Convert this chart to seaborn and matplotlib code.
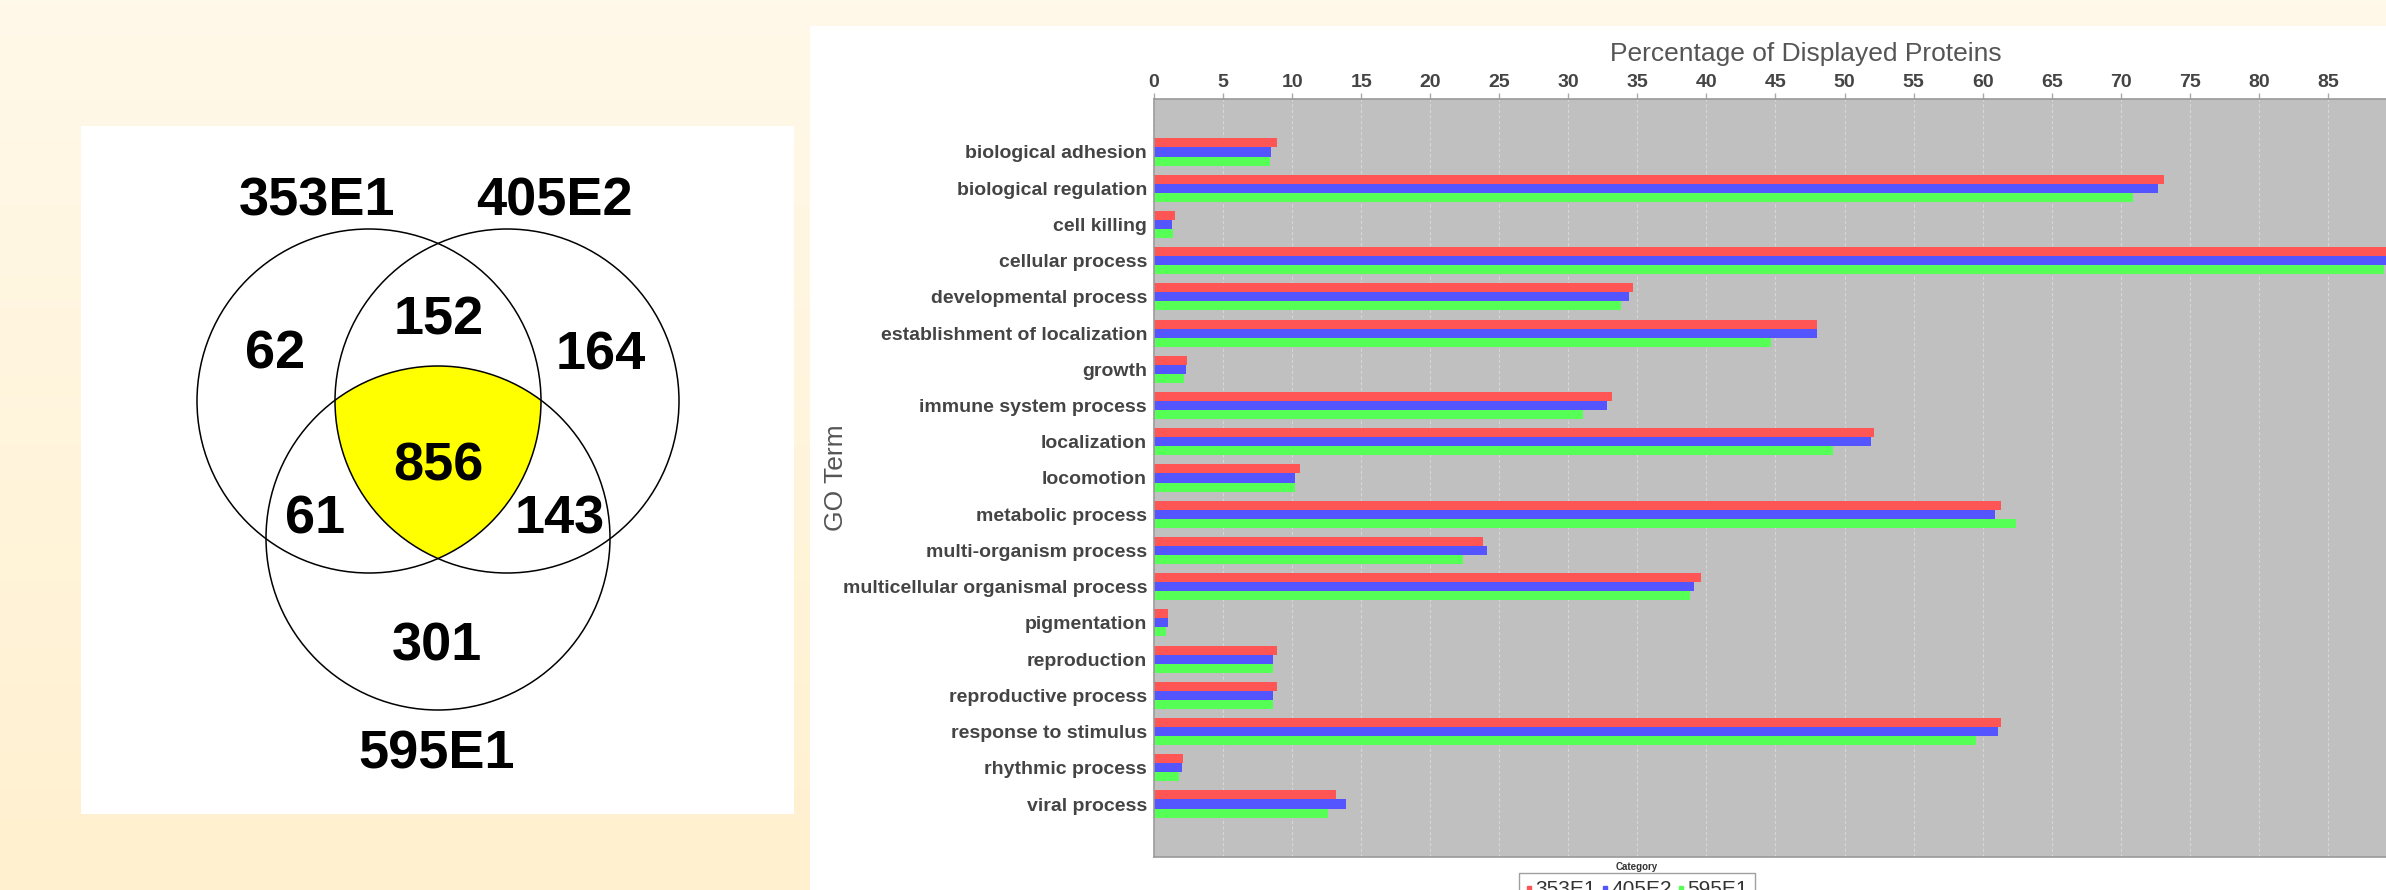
import numpy as np
import pandas as pd
import matplotlib
matplotlib.use("Agg")
import matplotlib.pyplot as plt
from matplotlib import font_manager
from matplotlib.patches import Circle, Rectangle, Polygon
from matplotlib.lines import Line2D
import seaborn as sns

# ---------------- data ----------------
terms = [
    "biological adhesion", "biological regulation", "cell killing",
    "cellular process", "developmental process",
    "establishment of localization", "growth", "immune system process",
    "localization", "locomotion", "metabolic process",
    "multi-organism process", "multicellular organismal process",
    "pigmentation", "reproduction", "reproductive process",
    "response to stimulus", "rhythmic process", "viral process",
]
pct_353E1 = [8.9, 73.1, 1.5, 91.5, 34.7, 48.0, 2.4, 33.2, 52.1, 10.6,
             61.3, 23.8, 39.6, 1.0, 8.9, 8.9, 61.3, 2.1, 13.2]
pct_405E2 = [8.5, 72.7, 1.3, 91.0, 34.4, 48.0, 2.3, 32.8, 51.9, 10.2,
             60.9, 24.1, 39.1, 1.0, 8.6, 8.6, 61.1, 2.0, 13.9]
pct_595E1 = [8.4, 70.9, 1.4, 89.1, 33.8, 44.7, 2.2, 31.1, 49.2, 10.2,
             62.4, 22.4, 38.8, 0.9, 8.6, 8.6, 59.5, 1.8, 12.6]
groups = ["353E1", "405E2", "595E1"]
group_colors = ["#FF5555", "#5555FF", "#55FF55"]
x_ticks = list(range(0, 95, 5))

# Venn region counts, keyed by set membership (353E1, 405E2, 595E1)
venn_regions = ["100", "010", "110", "001", "101", "011", "111"]
venn_counts = [62, 164, 152, 301, 61, 143, 856]

# ---------------- fonts ----------------
W, H = 2386, 890
sns.set_theme(style="white")
plt.rcParams["font.family"] = ["Liberation Sans", "DejaVu Sans"]
tick_fp = font_manager.FontProperties(family="Liberation Sans", weight="bold", size=14)

fig = plt.figure(figsize=(W / 100, H / 100), dpi=100)

# background layer in pixel units (y downwards)
bg = fig.add_axes([0, 0, 1, 1], zorder=0)
bg.set_xlim(0, W)
bg.set_ylim(H, 0)
bg.axis("off")
t = np.linspace(0, 1, 256)[:, None, None]
c_top = np.array([255, 249, 233]) / 255
c_bot = np.array([255, 240, 207]) / 255
bg.imshow(c_top + (c_bot - c_top) * t, extent=(0, W, H, 0), aspect="auto", zorder=0)
bg.add_patch(Rectangle((81, 126), 713, 688, fc="white", ec="none", zorder=1))
bg.add_patch(Rectangle((810, 26), 1700, 900, fc="white", ec="none", zorder=1))

# ---------------- Venn diagram ----------------
r = 172
centers = {"353E1": (369, 401), "405E2": (507, 401), "595E1": (438, 538)}
name_pos = {"353E1": (317, 196), "405E2": (554, 196), "595E1": (437, 749)}
region_pos = {"100": (275, 349), "010": (601, 350), "110": (439, 315),
              "001": (437, 641), "101": (315, 514), "011": (560, 514),
              "111": (438, 461)}

# central triple overlap
ang = np.linspace(0, 2 * np.pi, 4000)
pts = []
cl = list(centers.values())
for i, (cx, cy) in enumerate(cl):
    ring = np.c_[cx + r * np.cos(ang), cy + r * np.sin(ang)]
    ok = np.ones(len(ring), bool)
    for j, (ox, oy) in enumerate(cl):
        if j != i:
            ok &= np.hypot(ring[:, 0] - ox, ring[:, 1] - oy) <= r + 1e-6
    pts.append(ring[ok])
pts = np.vstack(pts)
m = pts.mean(axis=0)
pts = pts[np.argsort(np.arctan2(pts[:, 1] - m[1], pts[:, 0] - m[0]))]
bg.add_patch(Polygon(pts, closed=True, fc="#FFFF00", ec="none", zorder=2))

for name, (cx, cy) in centers.items():
    bg.add_patch(Circle((cx, cy), r, fill=False, ec="black", lw=1.1, zorder=3))

cap = 39 * 100 / 72 * 0.716
for name, (x, y) in name_pos.items():
    bg.text(x, y + cap / 2, name, ha="center", va="baseline", fontsize=39,
            fontweight="bold", color="black", zorder=4)
for reg, cnt in zip(venn_regions, venn_counts):
    x, y = region_pos[reg]
    bg.text(x, y + cap / 2, str(cnt), ha="center", va="baseline", fontsize=39,
            fontweight="bold", color="black", zorder=4)

# ---------------- GO term bar chart ----------------
df = pd.DataFrame({
    "term": terms * 3,
    "group": np.repeat(groups, len(terms)),
    "value": pct_353E1 + pct_405E2 + pct_595E1,
})

px_per_pct = 13.81
x_max = 94.4
ax_left, ax_top, ax_bottom = 1154, 99, 857
ax_w = x_max * px_per_pct
ax = fig.add_axes([ax_left / W, 1 - ax_bottom / H, ax_w / W, (ax_bottom - ax_top) / H],
                  zorder=2)
ax.set_facecolor("#C0C0C0")
sns.barplot(data=df, y="term", x="value", hue="group", hue_order=groups,
            palette=group_colors, orient="h", width=0.75, saturation=1,
            legend=False, ax=ax, linewidth=0)

n = len(terms)
pad_rows = 1.463
ax.set_ylim(n - 1 + pad_rows, -pad_rows)
ax.set_xlim(0, x_max)

ax.xaxis.tick_top()
ax.set_xticks(x_ticks)
ax.tick_params(axis="x", top=True, bottom=False, length=4, width=1, color="#aaaaaa",
               pad=2, labelcolor="#444444")
ax.tick_params(axis="y", length=0, pad=5, labelcolor="#444444")
for lab in ax.get_xticklabels() + ax.get_yticklabels():
    lab.set_fontproperties(tick_fp)

ax.grid(axis="x", color="#d6d6d6", lw=0.8, ls=(0, (3, 2)))
ax.grid(axis="y", visible=False)
ax.set_axisbelow(True)
for s in ax.spines.values():
    s.set_visible(True)
    s.set_color("#9a9a9a")
    s.set_linewidth(1.2)

ax.xaxis.set_label_position("top")
ax.set_xlabel("Percentage of Displayed Proteins", fontsize=19, color="#555555",
              labelpad=9)
ax.set_ylabel("GO Term", fontsize=19, color="#555555")
ax.yaxis.set_label_coords((848 - ax_left) / ax_w, 0.5)

# legend under the plot
handles = [Line2D([], [], marker="s", ls="", color=c, markersize=3) for c in group_colors]
fig.text(1637 / W, 1 - 867 / H, "Category", ha="center", va="center",
         fontsize=7, fontweight="bold", color="#333333")
leg = fig.legend(handles, groups, loc="upper center",
                 bbox_to_anchor=(1637 / W, 1 - 873 / H), ncol=3, frameon=True,
                 fancybox=False, fontsize=15, handlelength=0.3, handletextpad=0.15,
                 columnspacing=0.3, borderpad=0.35, borderaxespad=0)
leg.get_frame().set_edgecolor("#888888")
leg.get_frame().set_linewidth(1)
leg.get_frame().set_facecolor("white")
for txt in leg.get_texts():
    txt.set_color("#333333")

fig.savefig("out.png", dpi=100)
